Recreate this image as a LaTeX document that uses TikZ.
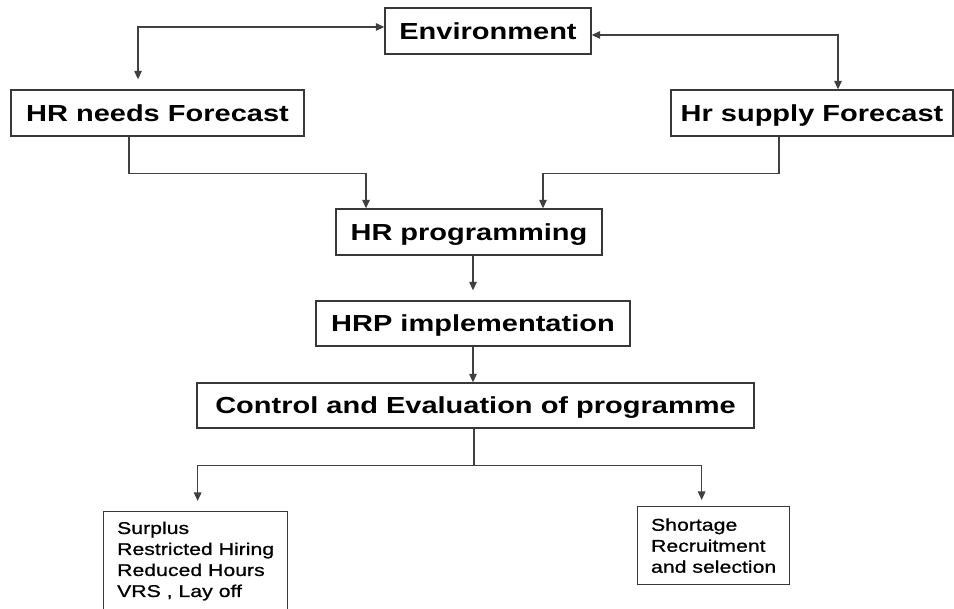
\documentclass[tikz,border=0pt]{standalone}
\usepackage{fontspec}
\setmainfont{Liberation Sans}[FakeStretch=1.25]
\newfontfamily\listfont{Liberation Sans}[FakeStretch=1.25, FakeBold=0.8]
\usetikzlibrary{arrows.meta,calc}

\tikzset{
  box/.style={draw=black!78, line width=1.3pt, rectangle, inner sep=0pt,
    font=\fontsize{23.2}{27}\bfseries\selectfont,
    text height=16.6pt, text depth=0pt},
  listbox/.style={draw=black!78, line width=1.3pt, rectangle, anchor=north west,
    align=left, inner xsep=12pt, inner ysep=10pt,
    font=\fontsize{17}{21}\listfont\selectfont},
  conn/.style={draw=black!75, line width=1.2pt,
    >={Triangle[length=8.5pt,width=7.5pt]}}
}

\begin{document}
\begin{tikzpicture}[x=1pt,y=-1pt]
\useasboundingbox (0,0) rectangle (954,609);
\clip (0,0) rectangle (954,609);
\fill[white] (0,0) rectangle (954,609);

% main boxes
\node[box, minimum width=206pt, minimum height=46pt] (env) at (488,31) {Environment};
\node[box, minimum width=293pt, minimum height=46pt] (hrneeds) at (157.5,113) {HR needs Forecast};
\node[box, minimum width=282pt, minimum height=46pt] (hrsupply) at (812,113) {Hr supply Forecast};
\node[box, minimum width=266pt, minimum height=46pt] (hrprog) at (469,232) {HR programming};
\node[box, minimum width=314pt, minimum height=45pt] (hrpimpl) at (473,323.5) {HRP implementation};
\node[box, minimum width=557pt, minimum height=45pt] (control) at (475.5,405.5) {Control and Evaluation of programme};

% outcome boxes
\node[listbox, minimum width=184pt] (surplus) at (103,511)
  {Surplus\\Restricted Hiring\\Reduced Hours\\VRS , Lay off\\[20pt]\mbox{}};
\node[listbox, minimum width=152pt, minimum height=78pt] (shortage) at (637,506)
  {Shortage\\Recruitment\\and selection};

% environment links
\draw[conn,<->] ($(hrneeds.north)+(-19.5,-10)$) |- ($(env.west)+(0,-4)$);
\draw[conn,<->] ($(env.east)+(0,4)$) -| ($(hrsupply.north)+(26,0)$);

% forecasts into programming
\draw[conn,->] ($(hrneeds.south)+(-28.5,0)$) -- ++(0,37) -| ($(hrprog.north)+(-103,0)$);
\draw[conn,->] ($(hrsupply.south)+(-33,0)$) -- ++(0,37) -| ($(hrprog.north)+(74,0)$);

% main chain
\draw[conn,->,shorten >=10pt] (hrpimpl.north |- hrprog.south) -- (hrpimpl.north);
\draw[conn,->] (hrpimpl.south) -- (hrpimpl.south |- control.north);

% split into outcomes
\draw[conn] ($(control.south)+(-1.5,0)$) -- ++(0,37) coordinate (split);
\draw[conn,->,shorten >=10pt] (split) -| ($(surplus.north)+(2,0)$);
\draw[conn,->,shorten >=6pt] (split) -| ($(shortage.north)+(-12,0)$);
\end{tikzpicture}
\end{document}
